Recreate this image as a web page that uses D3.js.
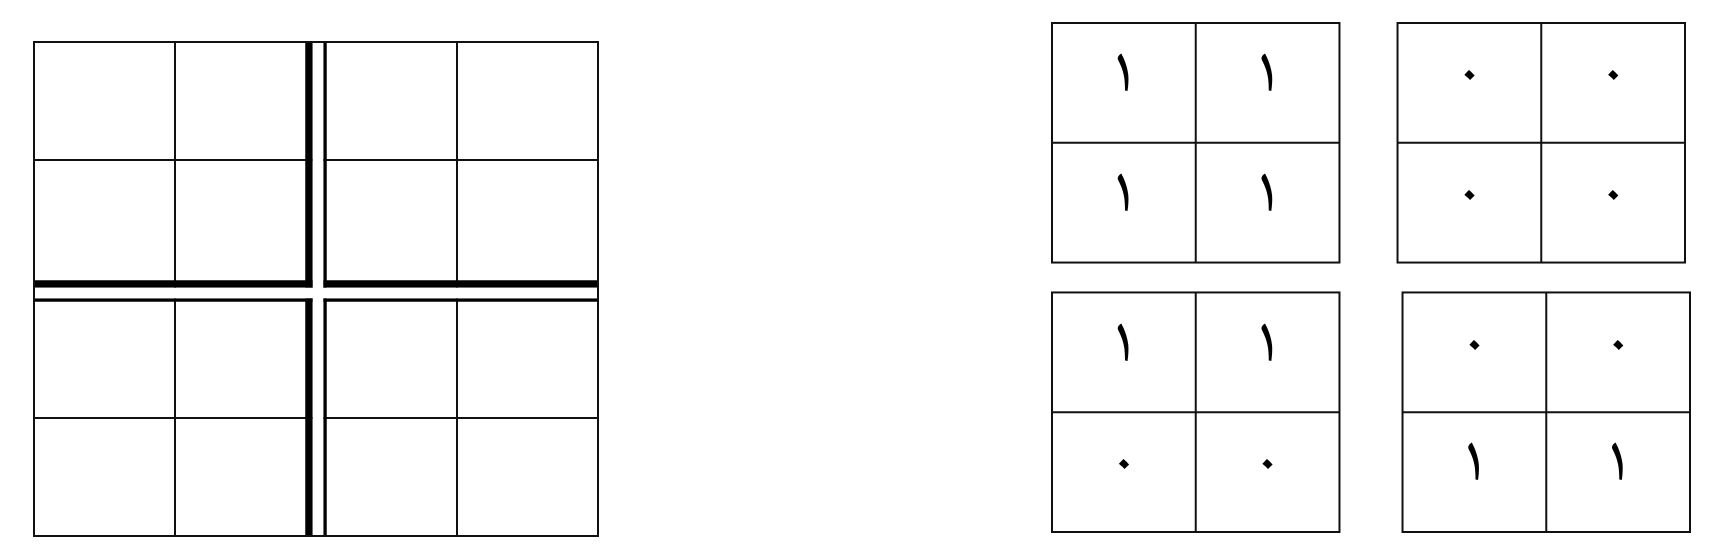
<!DOCTYPE html>
<html>
<head>
<meta charset="utf-8">
<script src="https://cdn.jsdelivr.net/npm/d3@7"></script>
<style>
  body { margin: 0; background: #fff; }
</style>
</head>
<body>
<div id="chart"></div>
<script>
// Left drawing: 2 x 2 blocks, each block a 2 x 2 grid (grid units 0..4)
var innerLines = [1, 3];
var middleLine = 2;

// Right: four small 2 x 2 matrices
var panelIds = [0, 1, 2, 3];
var panelValues = [
  [[1, 1], [1, 1]],
  [[0, 0], [0, 0]],
  [[1, 1], [0, 0]],
  [[0, 0], [1, 1]]
];
// Arabic-Indic digits zero and one
var digitLabels = ["\u0660", "\u0661"];

var svgWidth = 1731;
var svgHeight = 555;

var svg = d3.select("#chart")
            .append("svg")
            .attr("width", svgWidth)
            .attr("height", svgHeight);

var ink = "#111";

// ---- left drawing ----
var xL = d3.scaleLinear().domain([0, 4]).range([34, 598]);
var yL = d3.scaleLinear().domain([0, 1, 2, 3, 4]).range([42, 160, 291, 418, 536]);

var thickOff = -7, thinOff = 9;
var thickW = 7.5, thinW = 3.5;

var left = svg.append("g");

// thin inner lines
left.selectAll("line.v")
    .data(innerLines)
    .enter()
    .append("line")
    .attr("class", "v")
    .attr("x1", d => xL(d)).attr("x2", d => xL(d))
    .attr("y1", yL(0)).attr("y2", yL(4))
    .attr("stroke", ink).attr("stroke-width", 2);

left.selectAll("line.h")
    .data(innerLines)
    .enter()
    .append("line")
    .attr("class", "h")
    .attr("y1", d => yL(d)).attr("y2", d => yL(d))
    .attr("x1", xL(0)).attr("x2", xL(4))
    .attr("stroke", ink).attr("stroke-width", 2);

// double line in the middle: heavy one then light one
var doubles = [{off: thickOff, w: thickW}, {off: thinOff, w: thinW}];

left.selectAll("line.dv")
    .data(doubles)
    .enter()
    .append("line")
    .attr("x1", d => xL(middleLine) + d.off).attr("x2", d => xL(middleLine) + d.off)
    .attr("y1", yL(0)).attr("y2", yL(4))
    .attr("stroke", "#000").attr("stroke-width", d => d.w);

left.selectAll("line.dh")
    .data(doubles)
    .enter()
    .append("line")
    .attr("y1", d => yL(middleLine) + d.off).attr("y2", d => yL(middleLine) + d.off)
    .attr("x1", xL(0)).attr("x2", xL(4))
    .attr("stroke", "#000").attr("stroke-width", d => d.w);

// white gap between the two lines of each double
var gapV0 = xL(middleLine) + thickOff + thickW / 2;
var gapV1 = xL(middleLine) + thinOff - thinW / 2;
var gapH0 = yL(middleLine) + thickOff + thickW / 2;
var gapH1 = yL(middleLine) + thinOff - thinW / 2;

left.append("rect")
    .attr("x", gapV0).attr("width", gapV1 - gapV0)
    .attr("y", yL(0)).attr("height", yL(4) - yL(0))
    .attr("fill", "#fff");

left.append("rect")
    .attr("y", gapH0).attr("height", gapH1 - gapH0)
    .attr("x", xL(0)).attr("width", xL(4) - xL(0))
    .attr("fill", "#fff");

// outer border
left.append("rect")
    .attr("x", xL(0)).attr("y", yL(0))
    .attr("width", xL(4) - xL(0))
    .attr("height", yL(4) - yL(0))
    .attr("fill", "none")
    .attr("stroke", ink).attr("stroke-width", 2);

// ---- right matrices ----
var panelCol = d3.scaleBand().domain([0, 1]).range([1052, 1685]).paddingInner(0.168);
var panelRow = d3.scaleBand().domain([0, 1]).range([23, 532]).paddingInner(0.111);
var panelShift = [0, 0, 0, 5];

var cellX = d3.scaleBand().domain([0, 1]).range([0, panelCol.bandwidth()]);
var cellY = d3.scaleBand().domain([0, 1]).range([0, panelRow.bandwidth()]);

// glyph styling per digit (zero: upright diamond, one: curved naskh stroke)
var digitFont = ["'Noto Sans Arabic', sans-serif", "'Noto Naskh Arabic', 'Noto Sans Arabic', serif"];
var digitSize = ["62px", "66px"];
var digitBase = [0.585, 0.57];

var panels = svg.selectAll("g.panel")
    .data(panelIds)
    .enter()
    .append("g")
    .attr("class", "panel")
    .attr("transform", d => `translate(${panelCol(d % 2) + panelShift[d]}, ${panelRow(Math.floor(d / 2))})`);

panels.append("rect")
    .attr("width", panelCol.bandwidth())
    .attr("height", panelRow.bandwidth())
    .attr("fill", "none")
    .attr("stroke", ink)
    .attr("stroke-width", 2);

panels.append("line")
    .attr("x1", cellX(1)).attr("x2", cellX(1))
    .attr("y1", 0).attr("y2", panelRow.bandwidth())
    .attr("stroke", ink).attr("stroke-width", 2);

panels.append("line")
    .attr("y1", cellY(1)).attr("y2", cellY(1))
    .attr("x1", 0).attr("x2", panelCol.bandwidth())
    .attr("stroke", ink).attr("stroke-width", 2);

// digits in each cell
panels.selectAll("text")
    .data(d => {
        var cells = [];
        panelValues[d].forEach((row, r) => row.forEach((v, c) => cells.push({r: r, c: c, v: v})));
        return cells;
    })
    .enter()
    .append("text")
    .attr("x", d => cellX(d.c) + cellX.bandwidth() / 2)
    .attr("y", d => cellY(d.r) + cellY.bandwidth() * digitBase[d.v])
    .attr("text-anchor", "middle")
    .attr("font-family", d => digitFont[d.v])
    .attr("font-size", d => digitSize[d.v])
    .attr("fill", "#000")
    .text(d => digitLabels[d.v]);
</script>
</body>
</html>
